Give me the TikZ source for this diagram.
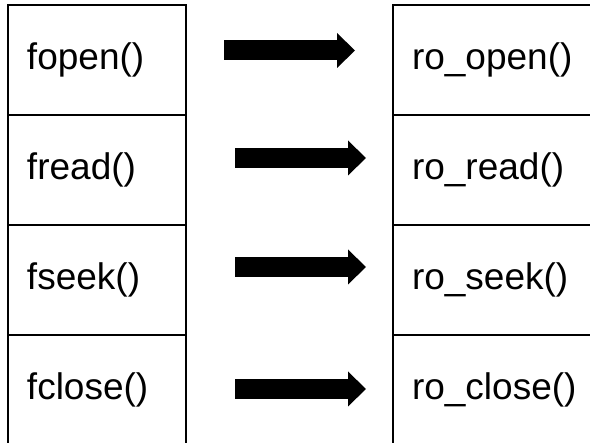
\documentclass[tikz,border=0pt]{standalone}
\usepackage{fontspec}
\setmainfont{Liberation Sans}
\usetikzlibrary{arrows.meta,positioning}

\tikzset{
  cell/.style={draw,line width=2pt,outer sep=0pt,inner xsep=19pt,inner ysep=0pt,
    minimum height=110pt,align=left,font=\fontsize{37}{40}\selectfont},
  libcell/.style={cell,text width=140pt},
  rocell/.style={cell,text width=172pt},
  fatarrow/.style={line width=20pt,-{Triangle[length=18pt,width=35pt,line width=0pt]}}
}

\begin{document}
\begin{tikzpicture}[x=1pt,y=-1pt]
        \useasboundingbox (0,0) rectangle (590,443);
        \clip (0,0) rectangle (590,443);

        % Library calls.
        \node[libcell,anchor=north west] (fopen) at (8,5) {fopen()};
        \node[libcell,below=0pt of fopen] (fread) {fread()};
        \node[libcell,below=0pt of fread] (fseek) {fseek()};
        \node[libcell,below=0pt of fseek] (fclose) {fclose()};

        % Read-only replacements.
        \node[rocell,right=207pt of fopen] (roopen) {ro\_open()};
        \node[rocell,below=0pt of roopen] (roread) {ro\_read()};
        \node[rocell,below=0pt of roread] (roseek) {ro\_seek()};
        \node[rocell,below=0pt of roseek] (roclose) {ro\_close()};

        % Arrow ends.
        \coordinate (a1) at (224,50.5);
        \coordinate (b1) at (355,50.5);
        \coordinate (a2) at (235,158);
        \coordinate (b2) at (366,158);
        \coordinate (a3) at (235,267);
        \coordinate (b3) at (366,267);
        \coordinate (a4) at (235,389);
        \coordinate (b4) at (366,389);

        % Mapping arrows.
        \foreach \i in {1,...,4} {
            \draw[fatarrow] (a\i) -- (b\i);
        }
    \end{tikzpicture}
\end{document}
